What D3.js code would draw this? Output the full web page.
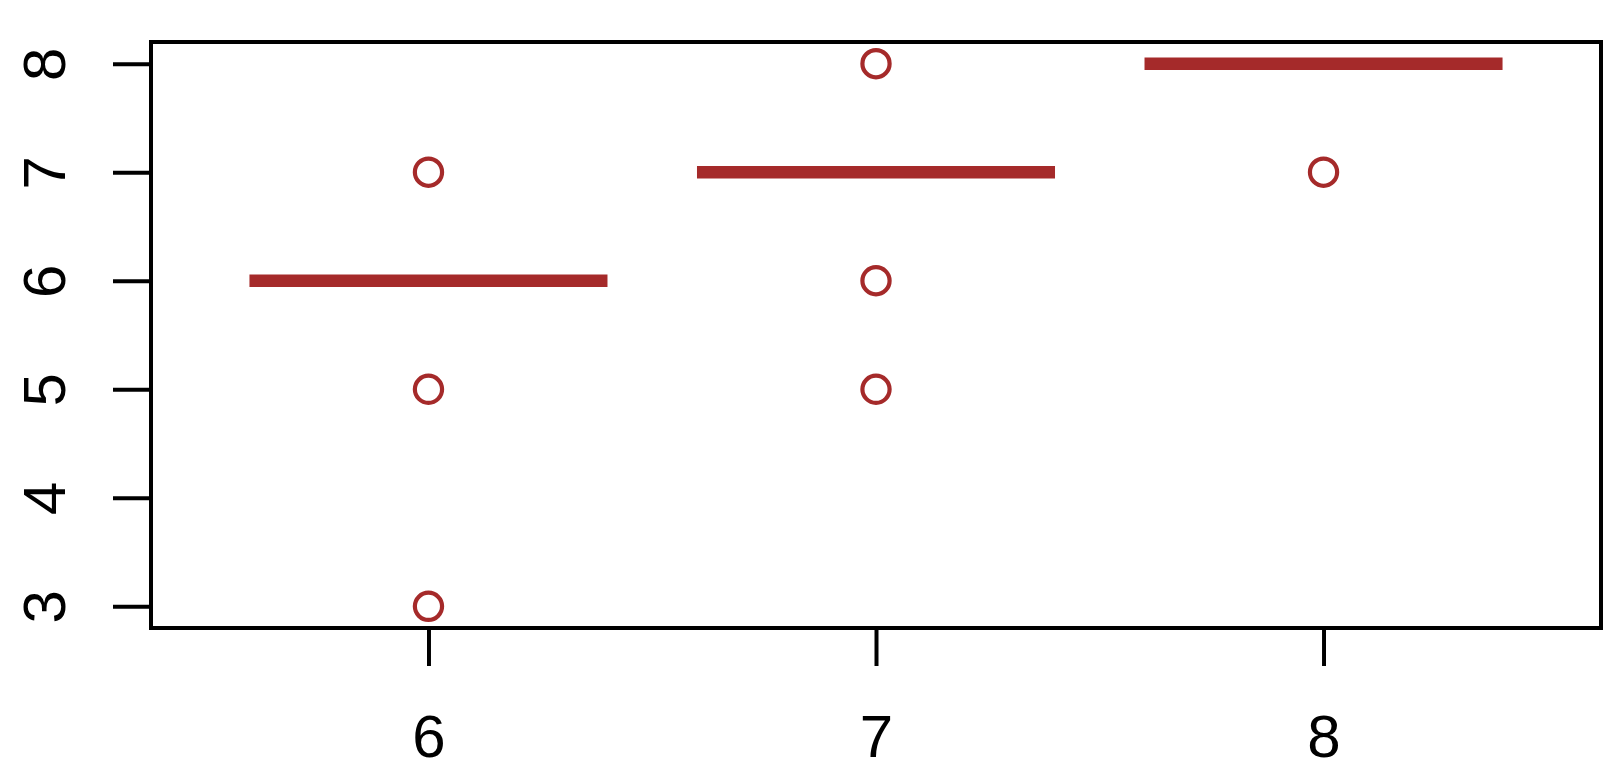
<!DOCTYPE html>
<html>
<head>
<meta charset="utf-8">
<script src="https://cdn.jsdelivr.net/npm/d3@7"></script>
<style>
  html, body { margin: 0; padding: 0; background: #fff; }
  svg { display: block; }
</style>
</head>
<body>
<div id="chart"></div>
<script>
// groups on the x axis and the points drawn for each
const groups = [6, 7, 8];
const groupPoints = [[7, 5, 3], [8, 6, 5], [7]];
// horizontal level line drawn for each group
const groupLevels = [6, 7, 8];
const xTicks = [6, 7, 8];
const yTicks = [3, 4, 5, 6, 7, 8];

const W = 1618, H = 776;
const margin = { top: 42, right: 17, bottom: 148, left: 151 };
const color = '#a52a2a';
const font = '"Liberation Sans", Arial, sans-serif';

const svg = d3.select('#chart')
    .append('svg')
    .attr('width', W)
    .attr('height', H);

const x = d3.scaleLinear()
    .domain([5.38, 8.62])
    .range([margin.left, W - margin.right]);

const y = d3.scaleLinear()
    .domain([2.8, 8.2])
    .range([H - margin.bottom, margin.top]);

// plot box
svg.append('rect')
    .attr('x', x.range()[0])
    .attr('y', y.range()[1])
    .attr('width', x.range()[1] - x.range()[0])
    .attr('height', y.range()[0] - y.range()[1])
    .attr('fill', 'none')
    .style('stroke', '#000')
    .style('stroke-width', '4px');

// x axis
const xAxis = svg.append('g')
    .attr('transform', `translate(0,${y.range()[0]})`)
    .call(d3.axisBottom(x).tickValues(xTicks).tickSize(38).tickPadding(0).tickFormat(d3.format('d')));
xAxis.select('.domain').remove();
xAxis.selectAll('.tick line').style('stroke', '#000').style('stroke-width', '4px');
xAxis.selectAll('.tick text')
    .attr('y', 129)
    .attr('dy', null)
    .style('font-family', font)
    .style('font-size', '60px')
    .attr('fill', '#000');

// y axis
const yAxis = svg.append('g')
    .attr('transform', `translate(${x.range()[0]},0)`)
    .call(d3.axisLeft(y).tickValues(yTicks).tickSize(38).tickFormat(d3.format('d')));
yAxis.select('.domain').remove();
yAxis.selectAll('.tick line').style('stroke', '#000').style('stroke-width', '4px');
yAxis.selectAll('.tick text')
    .attr('x', null)
    .attr('dy', null)
    .attr('text-anchor', 'middle')
    .attr('transform', `translate(${65 - margin.left},0) rotate(-90)`)
    .style('font-family', font)
    .style('font-size', '60px')
    .attr('fill', '#000');

// level lines
svg.selectAll('.level')
    .data(groups)
    .enter()
    .append('line')
    .attr('class', 'level')
    .attr('x1', d => x(d - 0.4))
    .attr('x2', d => x(d + 0.4))
    .attr('y1', (d, i) => y(groupLevels[i]))
    .attr('y2', (d, i) => y(groupLevels[i]))
    .style('stroke', color)
    .style('stroke-width', '12.5px');

// points
const pts = groups.flatMap((g, i) => groupPoints[i].map(v => ({ g, v })));
svg.selectAll('.pt')
    .data(pts)
    .enter()
    .append('circle')
    .attr('class', 'pt')
    .attr('cx', d => x(d.g))
    .attr('cy', d => y(d.v))
    .attr('r', 13.6)
    .attr('fill', 'none')
    .style('stroke', color)
    .style('stroke-width', '4.2px');
</script>
</body>
</html>
